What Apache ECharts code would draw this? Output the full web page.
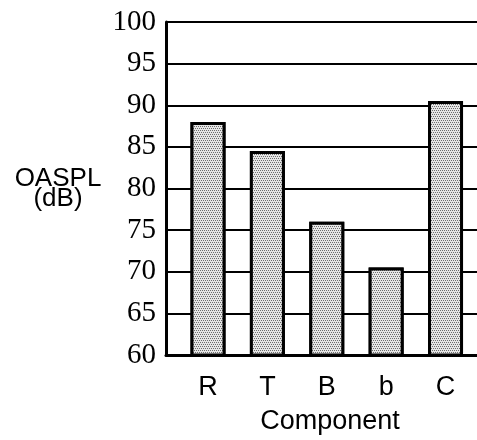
<!DOCTYPE html>
<html>
<head>
<meta charset="utf-8">
<script src="https://cdn.jsdelivr.net/npm/echarts@6/dist/echarts.min.js"></script>
<style>
  html, body { margin: 0; padding: 0; background: #fff; }
  #chart { width: 477px; height: 440px; }
</style>
</head>
<body>
<div id="chart"></div>
<script>
const categories = ['R', 'T', 'B', 'b', 'C']
const oaspl = [88, 84.5, 76, 70.5, 90.5]
const yTicks = [60, 65, 70, 75, 80, 85, 90, 95, 100]

const chart = echarts.init(document.getElementById('chart'))

// speckled grey fill like the scanned original
const stipple = {
  symbol: 'circle',
  symbolSize: 1,
  dashArrayX: [[1, 1], [0, 1, 1, 0]],
  dashArrayY: [1, 1],
  color: 'rgba(0,0,0,0.7)',
  backgroundColor: '#e6e6e6'
}

const option = {
  backgroundColor: '#fff',
  animation: false,
  grid: { left: 166, right: 0, top: 22, bottom: 83 },
  xAxis: {
    type: 'value',
    min: 0.2926,
    max: 5.53,
    name: 'Component',
    nameLocation: 'middle',
    nameGap: 53,
    nameTextStyle: { fontFamily: 'Liberation Sans', fontSize: 27, color: '#000', padding: [0, 0, 0, 17] },
    axisLine: { lineStyle: { color: '#000', width: 3 } },
    axisTick: { show: false },
    splitLine: { show: false },
    axisLabel: {
      customValues: categories.map((c, i) => i + 1),
      formatter: v => categories[v - 1] || '',
      fontFamily: 'Liberation Sans',
      fontSize: 27,
      color: '#000',
      margin: 19
    }
  },
  yAxis: {
    type: 'value',
    min: yTicks[0],
    max: yTicks[yTicks.length - 1],
    interval: 5,
    name: 'OASPL\n(dB)',
    nameLocation: 'middle',
    nameRotate: 0,
    nameGap: 108,
    nameTextStyle: { fontFamily: 'Liberation Sans', fontSize: 26, color: '#000', lineHeight: 20, align: 'center', padding: [0, 0, 14, 0] },
    axisLine: { show: true, lineStyle: { color: '#000', width: 3 } },
    axisTick: { show: false },
    splitLine: { lineStyle: { color: '#000', width: 2 } },
    axisLabel: {
      fontFamily: 'Liberation Serif',
      fontSize: 29,
      color: '#000',
      margin: 10
    }
  },
  series: [{
    type: 'bar',
    barWidth: 35,
    data: oaspl.map((v, i) => [i + 1, v]),
    itemStyle: { color: '#c8c8c8', borderColor: '#000', borderWidth: 3, decal: stipple }
  }]
}
chart.setOption(option)
</script>
</body>
</html>
